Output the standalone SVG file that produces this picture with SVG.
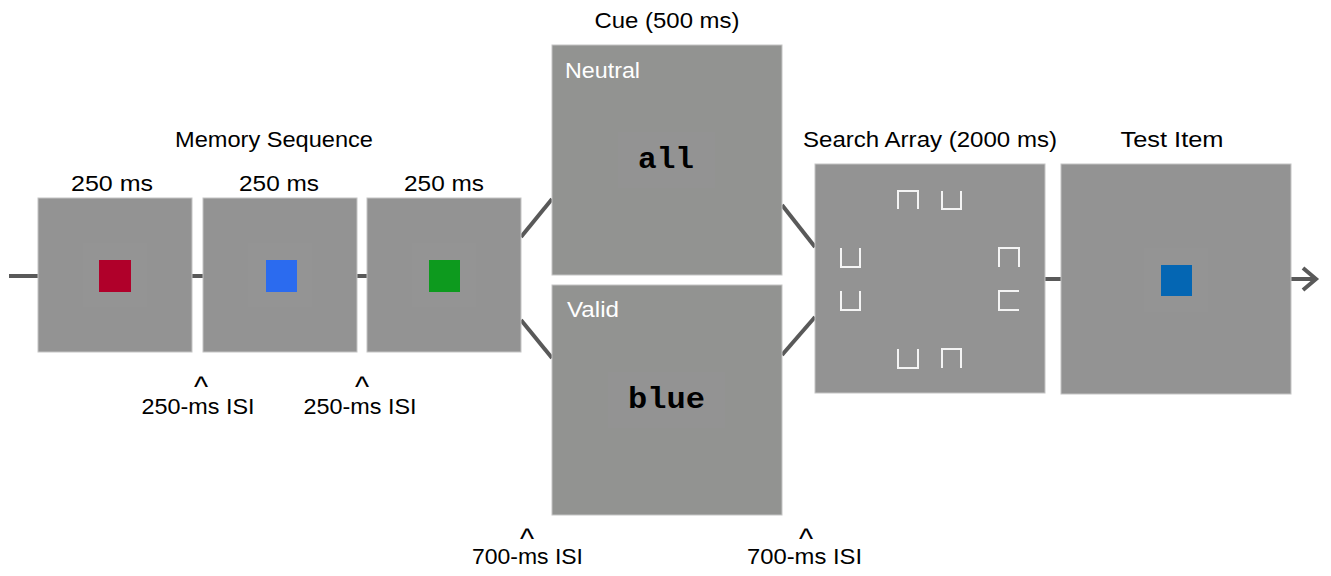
<svg xmlns="http://www.w3.org/2000/svg" width="1331" height="576" viewBox="0 0 1331 576">
<style>
.box{fill:#939393;stroke:#c4c4c4;stroke-width:1}
.cue{fill:#929391;stroke:#c4c4c4;stroke-width:1}
.inner{fill:#949494}
.lbl{font-family:"Liberation Sans",Arial,sans-serif;font-size:22px;fill:#000;text-anchor:middle}
.caret{font-size:30px}
.wlbl{font-family:"Liberation Sans",Arial,sans-serif;font-size:22px;fill:#fff}
.word{font-family:"Liberation Mono","Courier New",monospace;font-weight:bold;font-size:30px;fill:#000;text-anchor:middle}
.conn{stroke:#595959;stroke-width:4;fill:none}
.glyph{stroke:#f4f4f4;stroke-width:2;fill:none}
</style>
<rect width="1331" height="576" fill="#fff"/>
<g id="connectors">
<line class="conn" x1="9" y1="276" x2="521" y2="276"/>
<line class="conn" x1="521" y1="237" x2="552" y2="199"/>
<line class="conn" x1="521" y1="320" x2="552" y2="358"/>
<line class="conn" x1="782" y1="205" x2="815" y2="247"/>
<line class="conn" x1="782" y1="355" x2="815" y2="317"/>
<line class="conn" x1="1045" y1="279" x2="1316" y2="279"/>
<polyline class="conn" points="1303,268 1316,279 1303,290"/>
</g>
<g id="labels">
<text class="lbl" x="274" y="147" textLength="198" lengthAdjust="spacingAndGlyphs">Memory Sequence</text>
<text class="lbl" x="667" y="28" textLength="145" lengthAdjust="spacingAndGlyphs">Cue (500 ms)</text>
<text class="lbl" x="930" y="147" textLength="254" lengthAdjust="spacingAndGlyphs">Search Array (2000 ms)</text>
<text class="lbl" x="1172" y="147" textLength="103" lengthAdjust="spacingAndGlyphs">Test Item</text>
</g>
<g id="mem1">
<text class="lbl" x="112" y="191" textLength="82" lengthAdjust="spacingAndGlyphs">250 ms</text>
<rect class="box" x="38" y="198" width="154" height="154"/>
<rect class="inner" x="83" y="243" width="64" height="64"/>
<rect x="99" y="260" width="32" height="32" fill="#b0002a"/>
</g>
<g id="mem2">
<text class="lbl" x="279" y="191" textLength="80" lengthAdjust="spacingAndGlyphs">250 ms</text>
<rect class="box" x="203" y="198" width="154" height="154"/>
<rect class="inner" x="248" y="243" width="64" height="64"/>
<rect x="266" y="260" width="31" height="32" fill="#2b6bef"/>
</g>
<g id="mem3">
<text class="lbl" x="444" y="191" textLength="80" lengthAdjust="spacingAndGlyphs">250 ms</text>
<rect class="box" x="367" y="198" width="154" height="154"/>
<rect class="inner" x="412" y="243" width="64" height="64"/>
<rect x="429" y="260" width="31" height="32" fill="#0d9a1e"/>
</g>
<g id="isi1">
<text class="lbl"><tspan class="caret" x="201" y="397">^</tspan><tspan x="198" y="414" textLength="113" lengthAdjust="spacingAndGlyphs">250-ms ISI</tspan></text>
</g>
<g id="isi2">
<text class="lbl"><tspan class="caret" x="362" y="397">^</tspan><tspan x="360" y="414" textLength="113" lengthAdjust="spacingAndGlyphs">250-ms ISI</tspan></text>
</g>
<g id="cue-neutral">
<rect class="cue" x="552" y="45" width="230" height="230"/>
<rect x="618" y="132" width="97" height="56" fill="#939393"/>
<text class="wlbl" x="565" y="78" textLength="75" lengthAdjust="spacingAndGlyphs">Neutral</text>
<text class="word" x="666" y="168" textLength="56" lengthAdjust="spacingAndGlyphs">all</text>
</g>
<g id="cue-valid">
<rect class="cue" x="552" y="285" width="230" height="230"/>
<rect x="608" y="372" width="117" height="56" fill="#939393"/>
<text class="wlbl" x="567" y="317" textLength="52" lengthAdjust="spacingAndGlyphs">Valid</text>
<text class="word" x="666.5" y="408" textLength="77" lengthAdjust="spacingAndGlyphs">blue</text>
</g>
<g id="isi3">
<text class="lbl"><tspan class="caret" x="527" y="549">^</tspan><tspan x="527.5" y="564" textLength="111" lengthAdjust="spacingAndGlyphs">700-ms ISI</tspan></text>
</g>
<g id="isi4">
<text class="lbl"><tspan class="caret" x="806" y="549">^</tspan><tspan x="804.5" y="564" textLength="115" lengthAdjust="spacingAndGlyphs">700-ms ISI</tspan></text>
</g>
<g id="search-array">
<rect class="box" x="815" y="164" width="230" height="229"/>
<path class="glyph" d="M898,209V191H918V209"/>
<path class="glyph" d="M942,191V209H961V191"/>
<path class="glyph" d="M841,248V267H860V248"/>
<path class="glyph" d="M841,291V310H860V291"/>
<path class="glyph" d="M999,267V248H1019V267"/>
<path class="glyph" d="M1019,291H999V310H1019"/>
<path class="glyph" d="M898,349V368H918V349"/>
<path class="glyph" d="M942,368V349H961V368"/>
</g>
<g id="test-item">
<rect class="box" x="1061" y="164" width="230" height="230"/>
<rect class="inner" x="1144" y="248" width="64" height="64"/>
<rect x="1161" y="265" width="31" height="31" fill="#0466b3"/>
</g>
</svg>
